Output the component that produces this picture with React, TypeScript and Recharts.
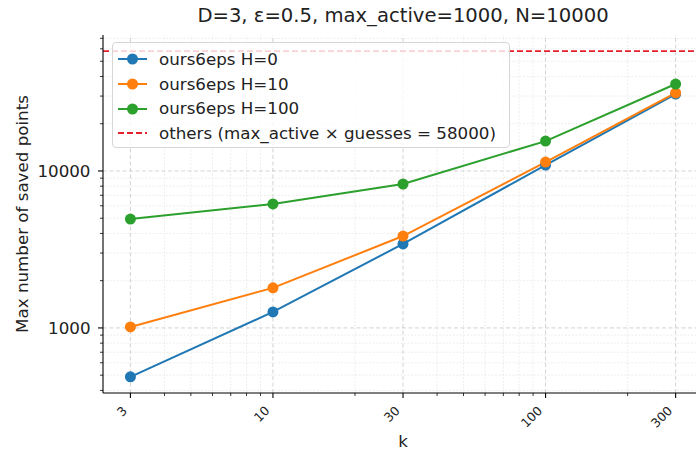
import React from 'react';
import { LineChart, Line, XAxis, YAxis, ReferenceLine, Legend } from 'recharts';

// ---- data ----
const kValues = [3, 10, 30, 100, 300];
const h0Values = [488, 1265, 3430, 10900, 30900];
const h10Values = [1015, 1800, 3850, 11400, 31400];
const h100Values = [4940, 6170, 8260, 15500, 35800];
const othersValue = 58000;

const seriesNames = ['ours6eps H=0', 'ours6eps H=10', 'ours6eps H=100'];
const othersName = 'others (max_active \u00d7 guesses = 58000)';

// ---- ticks ----
const xMajorTicks = [3, 10, 30, 100, 300];
const xMinorTicks = [4, 5, 6, 7, 8, 9, 20, 40, 50, 60, 70, 80, 90, 200];
const yMajorTicks = [1000, 10000];
const yMinorTicks = [400, 500, 600, 700, 800, 900, 2000, 3000, 4000, 5000, 6000, 7000, 8000, 9000, 20000, 30000, 40000, 50000, 60000, 70000];

const xDomain = [2.38, 378];
const yDomain = [385, 73500];

const COLORS = ['#1f77b4', '#ff7f0e', '#2ca02c'];
const RED = '#e3202e';
const FONT = 'DejaVu Sans, sans-serif';
const FS = 16.7;

const data = kValues.map((k, i) => ({
  k,
  h0: h0Values[i],
  h10: h10Values[i],
  h100: h100Values[i],
}));
const seriesKeys = ['h0', 'h10', 'h100'];

const XTick = (props: any) => {
  const { x, y, payload } = props;
  const v = payload.value;
  const major = xMajorTicks.includes(v);
  const px = x - 2.5;
  const py = y + 18.5;
  return (
    <g>
      <line x1={x} x2={x} y1={y} y2={y + (major ? 5 : 3)} stroke="#000" strokeWidth={major ? 1.1 : 0.8} />
      {major && (
        <text
          x={px}
          y={py}
          transform={`rotate(-45, ${px}, ${py})`}
          textAnchor="end"
          fontSize={12.5}
          fill="#222"
          fontFamily={FONT}
        >
          {v}
        </text>
      )}
    </g>
  );
};

const YTick = (props: any) => {
  const { x, y, payload } = props;
  const v = payload.value;
  const major = yMajorTicks.includes(v);
  return (
    <g>
      <line x1={x} x2={x - (major ? 5 : 3)} y1={y} y2={y} stroke="#000" strokeWidth={major ? 1.1 : 0.8} />
      {major && (
        <text x={x - 12.5} y={y} dy="0.36em" textAnchor="end" fontSize={FS} fill="#222" fontFamily={FONT}>
          {v}
        </text>
      )}
    </g>
  );
};

const YLabel = (props: any) => {
  const vb = props.viewBox || { y: 35, height: 358 };
  const cy = vb.y + vb.height / 2;
  const cx = 22;
  return (
    <text
      x={cx}
      y={cy}
      dy="0.36em"
      transform={`rotate(-90, ${cx}, ${cy})`}
      textAnchor="middle"
      fontSize={FS}
      fill="#222"
      fontFamily={FONT}
    >
      Max number of saved points
    </text>
  );
};

const LegendContent = () => {
  const rows = [
    ...seriesNames.map((n, i) => ({ name: n, color: COLORS[i], dashed: false })),
    { name: othersName, color: RED, dashed: true },
  ];
  return (
    <div
      style={{
        width: 398,
        height: 106,
        boxSizing: 'border-box',
        border: '1px solid #d6d6d6',
        borderRadius: 4,
        background: 'rgba(255,255,255,0.8)',
        paddingTop: 4,
        fontFamily: FONT,
        fontSize: FS,
        color: '#222',
      }}
    >
      {rows.map((r) => (
        <div key={r.name} style={{ height: 24.7, display: 'flex', alignItems: 'center' }}>
          <svg width={46} height={14} style={{ flex: 'none' }}>
            <line
              x1={5}
              x2={34}
              y1={7}
              y2={7}
              stroke={r.color}
              strokeWidth={2}
              strokeDasharray={r.dashed ? '6 3' : undefined}
            />
            {!r.dashed && <circle cx={19.5} cy={7} r={5.5} fill={r.color} />}
          </svg>
          <span style={{ whiteSpace: 'nowrap', lineHeight: 1 }}>{r.name}</span>
        </div>
      ))}
    </div>
  );
};

export default function App() {
  return (
    <div style={{ position: 'absolute', left: 0, top: 0, width: 696, height: 452, overflow: 'hidden', background: '#fff' }}>
      <div
        style={{
          position: 'absolute',
          left: 103,
          width: 600,
          top: 5,
          textAlign: 'center',
          fontFamily: FONT,
          fontSize: 19.6,
          lineHeight: '22px',
          color: '#222',
        }}
      >
        D=3, ε=0.5, max_active=1000, N=10000
      </div>
      <div style={{ position: 'absolute', left: 0, top: 0 }}>
        <LineChart width={703} height={452} data={data} margin={{ top: 35, right: 0, bottom: 0, left: 0 }}>
          <XAxis
            dataKey="k"
            type="number"
            scale="log"
            domain={xDomain}
            allowDataOverflow
            ticks={[...xMajorTicks, ...xMinorTicks]}
            interval={0}
            height={59}
            tickSize={0}
            tickMargin={0}
            tickLine={false}
            tick={<XTick />}
            axisLine={{ stroke: '#000', strokeWidth: 1.1 }}
            label={{ value: 'k', position: 'insideBottom', offset: 5, fontSize: FS, fill: '#222', fontFamily: FONT }}
          />
          <XAxis
            xAxisId="top"
            orientation="top"
            type="number"
            scale="log"
            domain={xDomain}
            allowDataOverflow
            height={0}
            tick={false}
            tickLine={false}
            axisLine={{ stroke: '#000', strokeWidth: 1.1 }}
          />
          <YAxis
            type="number"
            scale="log"
            domain={yDomain}
            allowDataOverflow
            ticks={[...yMajorTicks, ...yMinorTicks]}
            interval={0}
            width={103}
            tickSize={0}
            tickMargin={0}
            tickLine={false}
            tick={<YTick />}
            axisLine={{ stroke: '#000', strokeWidth: 1.1 }}
            label={<YLabel />}
          />
          {xMinorTicks.map((v) => (
            <ReferenceLine key={`xm${v}`} x={v} stroke="#e6e6e6" strokeWidth={0.7} strokeDasharray="2 1.5" />
          ))}
          {yMinorTicks.map((v) => (
            <ReferenceLine key={`ym${v}`} y={v} stroke="#e6e6e6" strokeWidth={0.7} strokeDasharray="2 1.5" />
          ))}
          {xMajorTicks.map((v) => (
            <ReferenceLine key={`xM${v}`} x={v} stroke="#c8c8c8" strokeWidth={0.8} strokeDasharray="4 2.5" />
          ))}
          {yMajorTicks.map((v) => (
            <ReferenceLine key={`yM${v}`} y={v} stroke="#c8c8c8" strokeWidth={0.8} strokeDasharray="4 2.5" />
          ))}
          <ReferenceLine y={othersValue} stroke={RED} strokeWidth={1.8} strokeDasharray="6 3" />
          {seriesKeys.map((key, i) => (
            <Line
              key={key}
              dataKey={key}
              name={seriesNames[i]}
              stroke={COLORS[i]}
              strokeWidth={2}
              dot={{ r: 5.5, fill: COLORS[i], stroke: COLORS[i], strokeWidth: 0 }}
              activeDot={false}
              isAnimationActive={false}
            />
          ))}
          <Legend
            layout="vertical"
            align="center"
            verticalAlign="middle"
            content={<LegendContent />}
            wrapperStyle={{ position: 'absolute', left: 112, top: 42, width: 398, height: 106 }}
          />
        </LineChart>
      </div>
    </div>
  );
}
